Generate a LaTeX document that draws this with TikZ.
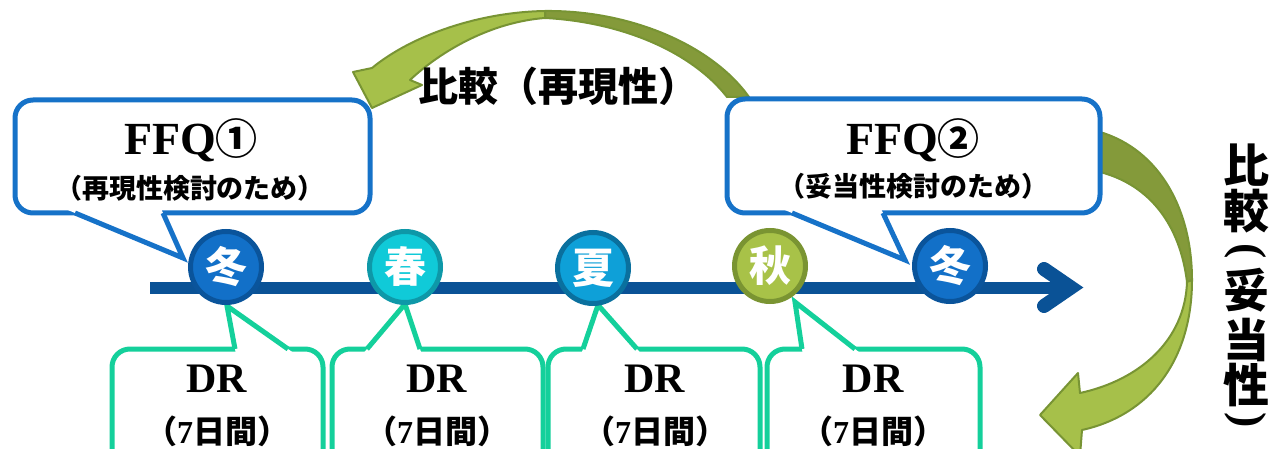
\documentclass[tikz,border=0pt]{standalone}
\usepackage{fontspec}
\setmainfont{Liberation Serif}
\newfontfamily\cjk{Noto Sans CJK JP}
\usetikzlibrary{calc}
\definecolor{ffqblue}{RGB}{22,114,200}
\definecolor{lineblue}{RGB}{10,82,150}
\definecolor{winterfill}{RGB}{18,112,200}
\definecolor{winteredge}{RGB}{10,84,155}
\definecolor{springfill}{RGB}{16,202,216}
\definecolor{springedge}{RGB}{14,152,168}
\definecolor{summerfill}{RGB}{14,160,216}
\definecolor{summeredge}{RGB}{10,112,158}
\definecolor{autumnfill}{RGB}{168,194,72}
\definecolor{autumnedge}{RGB}{122,148,50}
\definecolor{drgreen}{RGB}{20,208,155}
\definecolor{arrowlight}{RGB}{166,192,74}
\definecolor{arrowdark}{RGB}{132,154,58}
\definecolor{arrowedge}{RGB}{120,148,52}
\begin{document}
\begin{tikzpicture}[x=1pt,y=-1pt,
  ffqbox/.style={draw=ffqblue, line width=5pt, fill=white, rounded corners=18pt, inner sep=0pt},
  ffqtail/.style={draw=ffqblue, line width=5pt, line join=miter},
  drbox/.style={draw=drgreen, line width=5pt, fill=white, rounded corners=18pt, inner sep=0pt, minimum width=211pt, minimum height=130pt},
  drtail/.style={draw=drgreen, line width=5pt, line join=miter},
  season/.style={circle, line width=5pt, minimum size=71pt, inner sep=0pt, text=white, font=\cjk\bfseries\fontsize{42pt}{42pt}\selectfont},
  bigarrow/.style={draw=arrowedge, line width=2pt, line join=round},
  titletext/.style={anchor=base, inner sep=0pt, font=\bfseries\fontsize{46pt}{46pt}\selectfont},
  subtext/.style={inner sep=0pt, font=\cjk\bfseries\fontsize{27pt}{27pt}\selectfont},
  drtext/.style={anchor=base, inner sep=0pt, font=\bfseries\fontsize{42pt}{42pt}\selectfont},
  daystext/.style={inner sep=0pt, font=\cjk\bfseries\fontsize{32pt}{32pt}\selectfont},
  cmptext/.style={inner sep=0pt, font=\cjk\bfseries\fontsize{40pt}{40pt}\selectfont},
  vtext/.style={inner sep=0pt, font=\cjk\bfseries\fontsize{46pt}{46pt}\selectfont},
  vparen/.style={inner sep=0pt, rotate=-90, font=\bfseries\fontsize{46pt}{46pt}\selectfont}
]
\useasboundingbox (0,0) rectangle (1272,449);

% ---- green curved arrows ----
\fill[arrowdark, bigarrow] (545,11) .. controls (630,10) and (712,45) .. (749,97)
  -- (727,97) .. controls (692,52) and (622,22) .. (545,18) -- cycle;
\fill[arrowlight, bigarrow] (545,11) .. controls (480,12) and (412,35) .. (372,68)
  -- (353,72) -- (372,108) -- (422,85) -- (410,80)
  .. controls (442,50) and (492,22) .. (545,18) -- cycle;

\fill[arrowdark, bigarrow] (1100,132) .. controls (1160,150) and (1192,210) .. (1192,280)
  -- (1187,282) .. controls (1180,225) and (1150,185) .. (1100,172) -- cycle;
\fill[arrowlight, bigarrow] (1192,280) .. controls (1192,360) and (1150,415) .. (1082,430)
  -- (1080,456) -- (1040,415) -- (1078,373) -- (1080,393)
  .. controls (1140,380) and (1185,340) .. (1187,282) -- cycle;

% ---- FFQ callouts ----
\node[ffqbox, minimum width=355pt, minimum height=113pt] (ffq1) at (192.5,156.5) {};
\coordinate (f1a) at (75,213); \coordinate (f1b) at (163,213); \coordinate (f1tip) at (183,258);
\fill[white] ($(f1tip)!1.15!(f1a)$) -- (f1tip) -- ($(f1tip)!1.15!(f1b)$) -- cycle;
\draw[ffqtail] (f1a) -- (f1tip) -- (f1b);

\node[ffqbox, minimum width=373pt, minimum height=114pt] (ffq2) at (913.5,156) {};
\coordinate (f2a) at (792,213); \coordinate (f2b) at (883,213); \coordinate (f2tip) at (905,260);
\fill[white] ($(f2tip)!1.15!(f2a)$) -- (f2tip) -- ($(f2tip)!1.15!(f2b)$) -- cycle;
\draw[ffqtail] (f2a) -- (f2tip) -- (f2b);

\node[titletext] (ffq1t) at (191,155) {FFQ{\cjk\fontsize{42pt}{42pt}\selectfont ①}};
\node[subtext] (ffq1s) at (190,188) {（再現性検討のため）};
\node[titletext] (ffq2t) at (913,155) {FFQ{\cjk\fontsize{42pt}{42pt}\selectfont ②}};
\node[subtext] (ffq2s) at (913,186) {（妥当性検討のため）};

% ---- DR callouts ----
\node[drbox] (dr1) at (217.5,414) {};
\node[drbox] (dr2) at (437.5,414) {};
\node[drbox, minimum width=212pt] (dr3) at (654,414) {};
\node[drbox, minimum width=213pt] (dr4) at (873.5,414) {};

\coordinate (d1a) at (235,349); \coordinate (d1b) at (288,349); \coordinate (d1tip) at (227,306);
\coordinate (d2a) at (367,349); \coordinate (d2b) at (420,349); \coordinate (d2tip) at (405,304);
\coordinate (d3a) at (583,349); \coordinate (d3b) at (637,349); \coordinate (d3tip) at (598,305);
\coordinate (d4a) at (802,349); \coordinate (d4b) at (855,349); \coordinate (d4tip) at (795,302);
\foreach \i in {1,2,3,4}{
  \fill[white] ($(d\i tip)!1.15!(d\i a)$) -- (d\i tip) -- ($(d\i tip)!1.15!(d\i b)$) -- cycle;
  \draw[drtail] (d\i a) -- (d\i tip) -- (d\i b);
}

\node[drtext] (dr1t) at (217,392) {DR};
\node[drtext] (dr2t) at (437,392) {DR};
\node[drtext] (dr3t) at (655,392) {DR};
\node[drtext] (dr4t) at (873,392) {DR};
\node[daystext] (dr1d) at (217,431) {（{\rmfamily 7}日間）};
\node[daystext] (dr2d) at (437,431) {（{\rmfamily 7}日間）};
\node[daystext] (dr3d) at (655,431) {（{\rmfamily 7}日間）};
\node[daystext] (dr4d) at (873,431) {（{\rmfamily 7}日間）};

% ---- timeline ----
\coordinate (tstart) at (150,287.5);
\coordinate (tend) at (1071,287.5);
\draw[lineblue, line width=12pt] (tstart) -- (tend);
\draw[lineblue, line width=14pt, line cap=round, line join=miter] (1044,269) -- (tend) -- (1044,306);

% ---- season circles ----
\node[season, fill=winterfill, draw=winteredge] (w1) at (226,267) {冬};
\node[season, fill=springfill, draw=springedge] (sp) at (405,267) {春};
\node[season, fill=summerfill, draw=summeredge] (su) at (593,268) {夏};
\node[season, fill=autumnfill, draw=autumnedge] (au) at (770,266) {秋};
\node[season, fill=winterfill, draw=winteredge] (w2) at (950,266) {冬};

% ---- comparison labels ----
\node[cmptext] (cmp1) at (558,86) {比較（再現性）};
\node[vtext] (v1) at (1246,165) {比};
\node[vtext] (v2) at (1246,211) {較};
\node[vparen] (v3) at (1246,251) {(};
\node[vtext] (v4) at (1246,290) {妥};
\node[vtext] (v5) at (1246,340) {当};
\node[vtext] (v6) at (1246,385) {性};
\node[vparen] (v7) at (1246,420) {)};
\end{tikzpicture}
\end{document}
